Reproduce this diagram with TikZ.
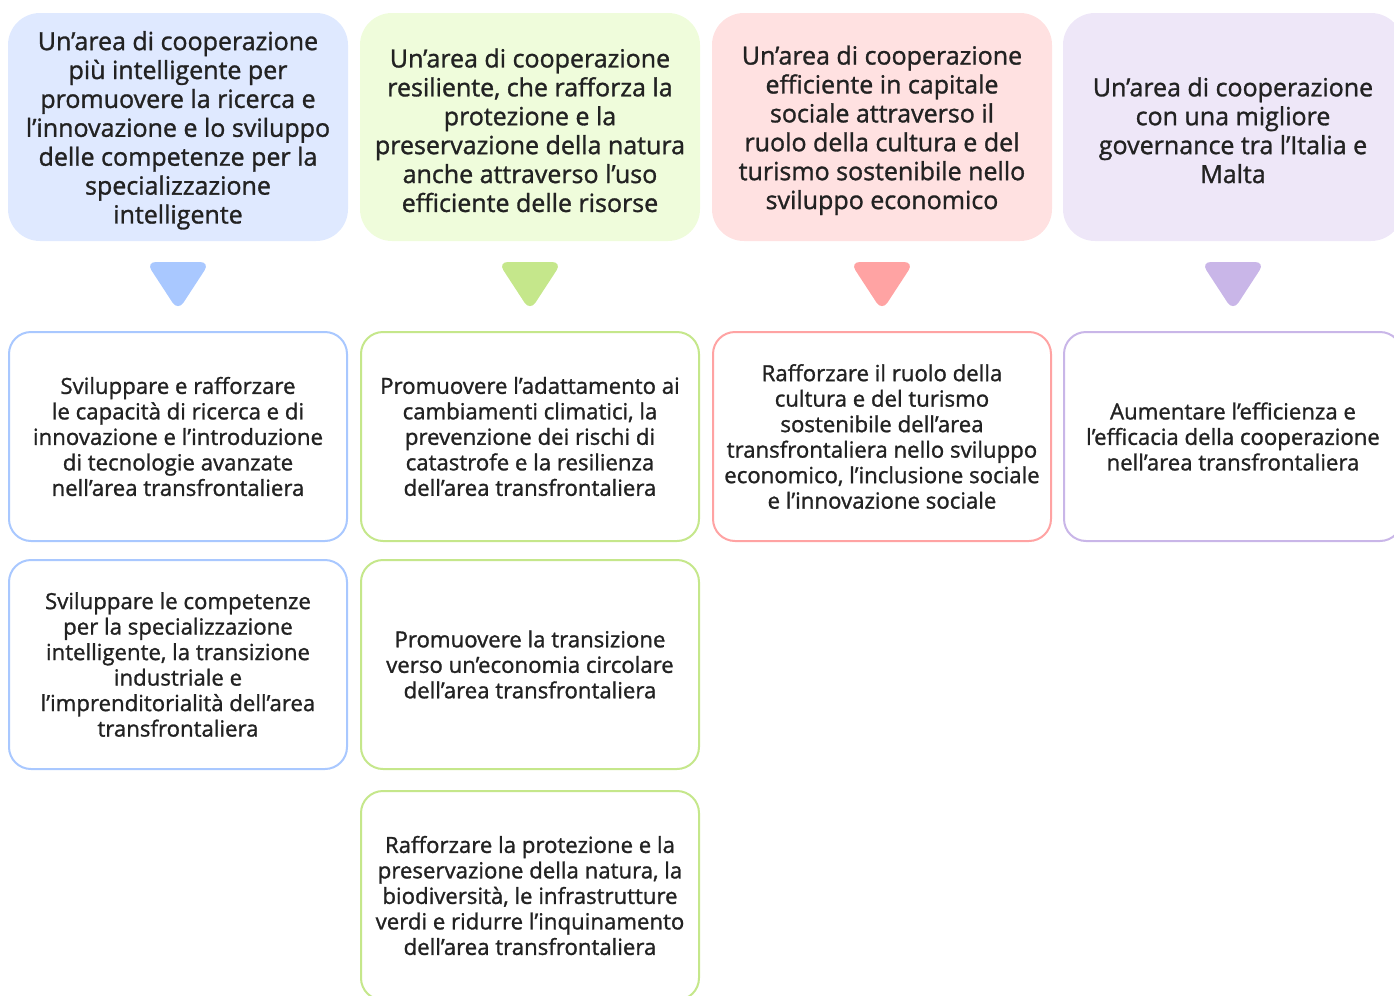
\documentclass[tikz,border=0pt]{standalone}
\usepackage{fontspec}
\IfFontExistsTF{Open Sans SemiBold}
  {\setmainfont{Open Sans SemiBold}}
  {\setmainfont{Open Sans}[FakeBold=1.2]}
\definecolor{TxtGray}{HTML}{222222}
\definecolor{AreaBlue}{HTML}{DFE9FF}
\definecolor{AreaGreen}{HTML}{EFFCDB}
\definecolor{AreaRed}{HTML}{FFE1E1}
\definecolor{AreaPurple}{HTML}{EEE7F8}
\definecolor{LineBlue}{HTML}{A9C8FF}
\definecolor{LineGreen}{HTML}{C5E78B}
\definecolor{LineRed}{HTML}{FFA3A3}
\definecolor{LinePurple}{HTML}{C9B6E8}

% pushes the area titles a little lower in their boxes
\newcommand{\headgap}{\rule{0pt}{12.8pt}}

\tikzset{
  head/.style={rounded corners=16pt, minimum width=170pt, minimum height=114pt,
    inner sep=0pt, align=center, text=TxtGray, font=\fontsize{12.5}{14.45}\selectfont},
  goal/.style={draw, line width=1pt, rounded corners=11pt, fill=white,
    minimum width=169pt, minimum height=104.5pt, inner sep=0pt, align=center,
    text=TxtGray, font=\fontsize{11.1}{12.75}\selectfont},
}

\begin{document}
\begin{tikzpicture}[x=0.5pt,y=-0.5pt]
\path[use as bounding box] (0,0) rectangle (1394,996);
\begin{scope}
\clip (0,0) rectangle (1394,996);

% priority areas
\node[head,fill=AreaBlue] (h1) at (178,127) {\headgap Un’area di cooperazione\\più intelligente per\\promuovere la ricerca e\\l’innovazione e lo sviluppo\\delle competenze per la\\specializzazione\\intelligente};
\node[head,fill=AreaGreen] (h2) at (530,127) {\headgap Un’area di cooperazione\\resiliente, che rafforza la\\protezione e la\\preservazione della natura\\anche attraverso l’uso\\efficiente delle risorse};
\node[head,fill=AreaRed] (h3) at (882,127) {\headgap Un’area di cooperazione\\efficiente in capitale\\sociale attraverso il\\ruolo della cultura e del\\turismo sostenibile nello\\sviluppo economico};
\node[head,fill=AreaPurple] (h4) at (1233,127) {\headgap Un’area di cooperazione\\con una migliore\\governance tra l’Italia e\\Malta};

% down markers
\foreach \cx/\col in {178/LineBlue,530/LineGreen,882/LineRed,1233/LinePurple}
  \fill[\col,rounded corners=5pt] (\cx-32,262) -- (\cx+32,262) -- (\cx,311) -- cycle;

% specific objectives
\node[goal,draw=LineBlue] (o11) at (178,436.5) {Sviluppare e rafforzare\\le capacità di ricerca e di\\innovazione e l’introduzione\\di tecnologie avanzate\\nell’area transfrontaliera};
\node[goal,draw=LineBlue] (o12) at (178,664.5) {Sviluppare le competenze\\per la specializzazione\\intelligente, la transizione\\industriale e\\l’imprenditorialità dell’area\\transfrontaliera};
\node[goal,draw=LineGreen] (o21) at (530,436.5) {Promuovere l’adattamento ai\\cambiamenti climatici, la\\prevenzione dei rischi di\\catastrofe e la resilienza\\dell’area transfrontaliera};
\node[goal,draw=LineGreen] (o22) at (530,664.5) {Promuovere la transizione\\verso un’economia circolare\\dell’area transfrontaliera};
\node[goal,draw=LineGreen] (o23) at (530,895.5) {Rafforzare la protezione e la\\preservazione della natura, la\\biodiversità, le infrastrutture\\verdi e ridurre l’inquinamento\\dell’area transfrontaliera};
\node[goal,draw=LineRed] (o31) at (882,436.5) {Rafforzare il ruolo della\\cultura e del turismo\\sostenibile dell’area\\transfrontaliera nello sviluppo\\economico, l’inclusione sociale\\e l’innovazione sociale};
\node[goal,draw=LinePurple] (o41) at (1233,436.5) {Aumentare l’efficienza e\\l’efficacia della cooperazione\\nell’area transfrontaliera};
\end{scope}
\end{tikzpicture}
\end{document}
